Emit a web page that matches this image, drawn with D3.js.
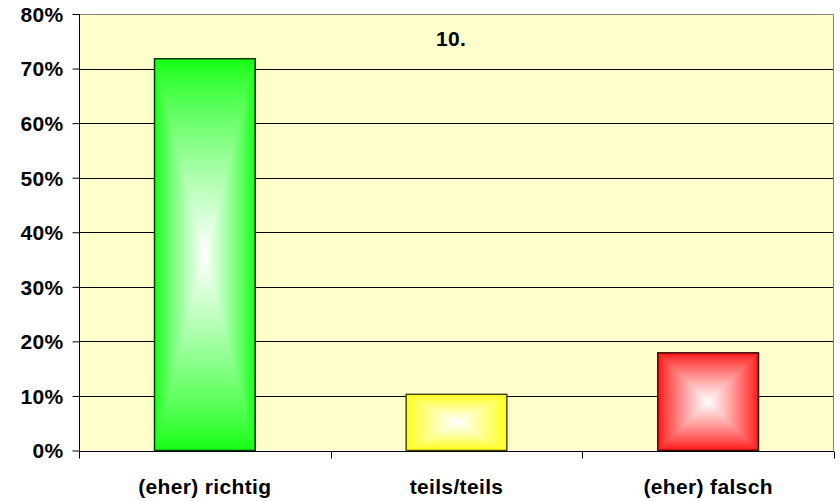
<!DOCTYPE html>
<html>
<head>
<meta charset="utf-8">
<script src="https://cdn.jsdelivr.net/npm/d3@7"></script>
<style>
  html, body { margin: 0; padding: 0; background: #ffffff; }
  svg { display: block; }
  text { font-family: Arial, "Liberation Sans", sans-serif; font-weight: bold; fill: #000; }
</style>
</head>
<body>
<svg id="chart" width="840" height="501"></svg>
<script>
// ---- data ----
const title = "10.";
const categories = ["(eher) richtig", "teils/teils", "(eher) falsch"];
const values = [0.718, 0.103, 0.179];
const yTicks = [0, 0.1, 0.2, 0.3, 0.4, 0.5, 0.6, 0.7, 0.8];

// ---- styles ----
const barColors = ["#14ff14", "#ffff14", "#ff1414"];
const barStroke = ["#0a3a0a", "#4a4a10", "#3a0a0a"];
const FS = 21, LS = 0.35;

const W = 840, H = 501;
const m = { left: 79, right: 6, top: 14, bottom: 50.5 };
const svg = d3.select("#chart");

const x = d3.scaleBand().domain(categories)
  .range([m.left, W - m.right]).paddingInner(0.6).paddingOuter(0.3);
const y = d3.scaleLinear().domain([0, 0.8]).range([H - m.bottom, m.top]);

const x0 = m.left, x1 = W - m.right, yb = y(0), yt = y(0.8);

// plot background
svg.append("rect").attr("x", x0).attr("y", yt)
  .attr("width", x1 - x0).attr("height", yb - yt).attr("fill", "#ffffcc");

// gridlines
svg.append("g").selectAll("line").data(yTicks.filter(d => d > 0 && d < 0.8)).join("line")
  .attr("x1", x0).attr("x2", x1)
  .attr("y1", d => Math.round(y(d)) + 0.5).attr("y2", d => Math.round(y(d)) + 0.5)
  .attr("stroke", "#000").attr("stroke-width", 1);

// top and right border (gray)
svg.append("path")
  .attr("d", `M${x0},${Math.round(yt) + 0.5}H${x1 - 0.5}V${yb}`)
  .attr("fill", "none").attr("stroke", "#808080").attr("stroke-width", 1);

// gradient stops: edge colour -> white at centre (eased)
function addStops(g, col) {
  const n = 8;
  const half = d3.range(n + 1).map(k => k / n);
  half.forEach(t => {
    g.append("stop").attr("offset", t * 0.5)
      .attr("stop-color", d3.interpolateRgb(col, "#ffffff")(Math.pow(t, 0.85)));
  });
  half.slice().reverse().forEach(t => {
    g.append("stop").attr("offset", 1 - t * 0.5)
      .attr("stop-color", d3.interpolateRgb(col, "#ffffff")(Math.pow(t, 0.85)));
  });
}

// bars with rectangular "from center" gradient
const defs = svg.append("defs");
const bars = svg.append("g");
categories.forEach((c, i) => {
  const bx0 = x(c), bx1 = x(c) + x.bandwidth();
  const by0 = y(values[i]), by1 = y(0);
  const cx = (bx0 + bx1) / 2, cy = (by0 + by1) / 2;
  const col = barColors[i];

  const gv = defs.append("linearGradient").attr("id", "gv" + i)
    .attr("gradientUnits", "userSpaceOnUse")
    .attr("x1", cx).attr("x2", cx).attr("y1", by0).attr("y2", by1);
  addStops(gv, col);

  const gh = defs.append("linearGradient").attr("id", "gh" + i)
    .attr("gradientUnits", "userSpaceOnUse")
    .attr("x1", bx0).attr("x2", bx1).attr("y1", cy).attr("y2", cy);
  addStops(gh, col);

  bars.append("rect").attr("x", bx0).attr("y", by0)
    .attr("width", bx1 - bx0).attr("height", by1 - by0)
    .attr("fill", `url(#gv${i})`);
  bars.append("path")
    .attr("d", `M${bx0},${by0}L${cx},${cy}L${bx0},${by1}Z M${bx1},${by0}L${cx},${cy}L${bx1},${by1}Z`)
    .attr("fill", `url(#gh${i})`);
  bars.append("rect").attr("x", bx0).attr("y", by0)
    .attr("width", bx1 - bx0).attr("height", by1 - by0)
    .attr("fill", "none").attr("stroke", barStroke[i]).attr("stroke-width", 1.5);
});

// y axis
const yAxis = d3.axisLeft(y).tickValues(yTicks).tickFormat(d3.format(".0%"))
  .tickSize(7).tickPadding(9);
const gy = svg.append("g").attr("transform", `translate(${x0 + 0.5},0)`).call(yAxis);
gy.select(".domain").attr("stroke", "#000").attr("d", `M0,${yt}V${yb}`);
gy.selectAll(".tick line").attr("stroke", "#000");
gy.selectAll(".tick text").attr("font-size", FS).attr("font-family", null)
  .attr("letter-spacing", LS).attr("dy", "0.35em");

// x axis
const gx = svg.append("g").attr("transform", `translate(0,${Math.round(yb) + 0.5})`);
gx.append("line").attr("x1", x0).attr("x2", x1).attr("stroke", "#000");
const bounds = [x0].concat(categories.map(c => x(c) + x.bandwidth() / 2 + x.step() / 2));
gx.selectAll("line.tk").data(bounds).join("line").attr("class", "tk")
  .attr("x1", d => Math.round(d) + 0.5).attr("x2", d => Math.round(d) + 0.5)
  .attr("y1", 0).attr("y2", 7).attr("stroke", "#000");
gx.selectAll("text").data(categories).join("text")
  .attr("x", d => x(d) + x.bandwidth() / 2).attr("y", 42)
  .attr("text-anchor", "middle").attr("font-size", FS).attr("letter-spacing", LS).text(d => d);

// title
svg.append("text").attr("x", 451).attr("y", 45.5)
  .attr("text-anchor", "middle").attr("font-size", FS).attr("letter-spacing", LS).text(title);
</script>
</body>
</html>
